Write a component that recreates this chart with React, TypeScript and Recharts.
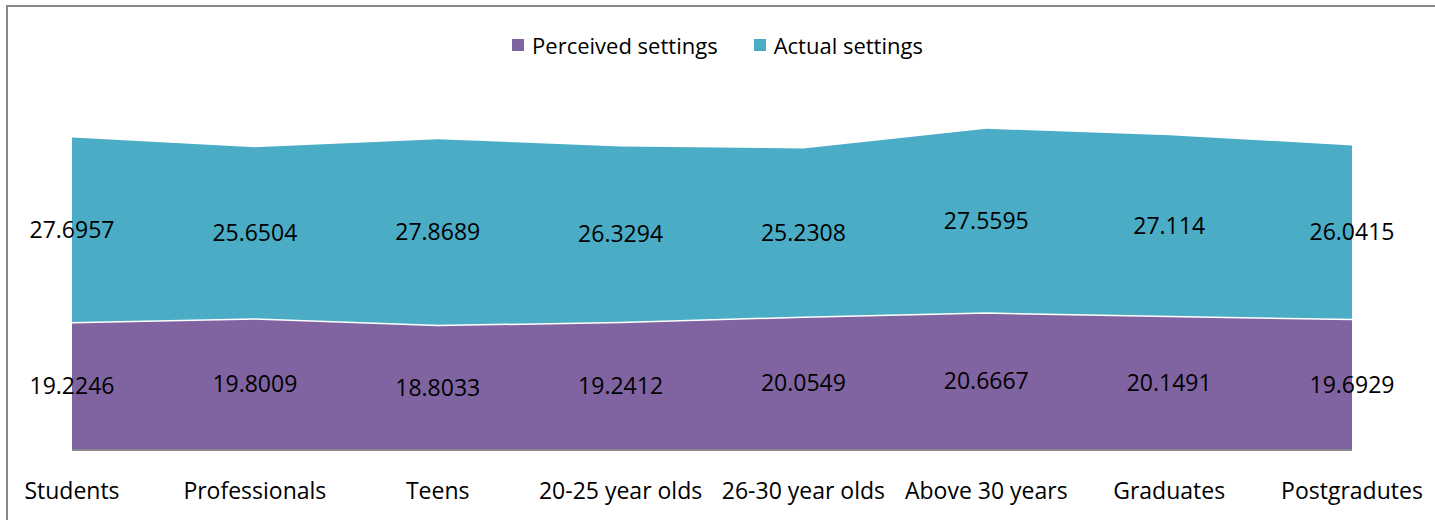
import React from "react";
import { AreaChart, Area, Line, XAxis, YAxis, Legend, LabelList } from "recharts";

const categories = [
  "Students",
  "Professionals",
  "Teens",
  "20-25 year olds",
  "26-30 year olds",
  "Above 30 years",
  "Graduates",
  "Postgradutes",
];
const perceived = [19.2246, 19.8009, 18.8033, 19.2412, 20.0549, 20.6667, 20.1491, 19.6929];
const actual = [27.6957, 25.6504, 27.8689, 26.3294, 25.2308, 27.5595, 27.114, 26.0415];
const seriesNames = ["Perceived settings", "Actual settings"];

const PURPLE = "#8064A2";
const TEAL = "#4BACC6";
const seriesColors = [PURPLE, TEAL];
const FONT = "'Open Sans', sans-serif";

const data = categories.map((c, i) => ({
  name: c,
  perceived: perceived[i],
  actual: actual[i],
  pMid: perceived[i] / 2,
  aMid: perceived[i] + actual[i] / 2,
}));

const Tick = (props: any) => {
  const { x, y, payload } = props;
  return (
    <text x={x} y={y} dy={41} textAnchor="middle" fontFamily={FONT} fontSize={23} fill="#000">
      {payload.value}
    </text>
  );
};

const LegendContent = () => {
  return (
    <div style={{ display: "flex", justifyContent: "center", fontFamily: FONT, fontSize: 22, color: "#000" }}>
      {seriesNames.map((n, i) => (
        <div key={i} style={{ display: "flex", alignItems: "center", marginLeft: i ? 36 : 0 }}>
          <span style={{ width: 12, height: 12, background: seriesColors[i], display: "inline-block", marginRight: 8 }} />
          <span>{n}</span>
        </div>
      ))}
    </div>
  );
};

export default function App() {
  return (
    <div style={{ position: "absolute", left: 0, top: 0, width: 1435, height: 520, background: "#fff", overflow: "hidden" }}>
      <div
        style={{
          position: "absolute",
          left: 6,
          top: 5,
          width: 1500,
          height: 600,
          borderTop: "2px solid #878787",
          borderLeft: "2px solid #878787",
        }}
      />
      <div style={{ position: "absolute", left: 0, top: 0 }}>
        <AreaChart width={1435} height={520} data={data} margin={{ top: 117, right: 83, bottom: 30, left: 72 }}>
          <XAxis
            dataKey="name"
            height={40}
            axisLine={{ stroke: "#888", strokeWidth: 2 }}
            tickLine={false}
            tick={<Tick />}
            interval={0}
          />
          <YAxis hide domain={[0, 50]} />
          <Legend
            verticalAlign="middle"
            layout="horizontal"
            content={<LegendContent />}
            wrapperStyle={{ top: 30, left: 0, width: 1435 }}
          />
          <Area
            type="linear"
            dataKey="perceived"
            name={seriesNames[0]}
            stackId="1"
            fill={PURPLE}
            fillOpacity={1}
            stroke="#fff"
            strokeWidth={3}
            isAnimationActive={false}
          />
          <Area
            type="linear"
            dataKey="actual"
            name={seriesNames[1]}
            stackId="1"
            fill={TEAL}
            fillOpacity={1}
            stroke="none"
            isAnimationActive={false}
          />
          <Line dataKey="pMid" stroke="none" dot={false} activeDot={false} legendType="none" isAnimationActive={false}>
            <LabelList dataKey="perceived" position="center" fill="#000" fontFamily={FONT} fontSize={23} />
          </Line>
          <Line dataKey="aMid" stroke="none" dot={false} activeDot={false} legendType="none" isAnimationActive={false}>
            <LabelList dataKey="actual" position="center" fill="#000" fontFamily={FONT} fontSize={23} />
          </Line>
        </AreaChart>
      </div>
    </div>
  );
}
